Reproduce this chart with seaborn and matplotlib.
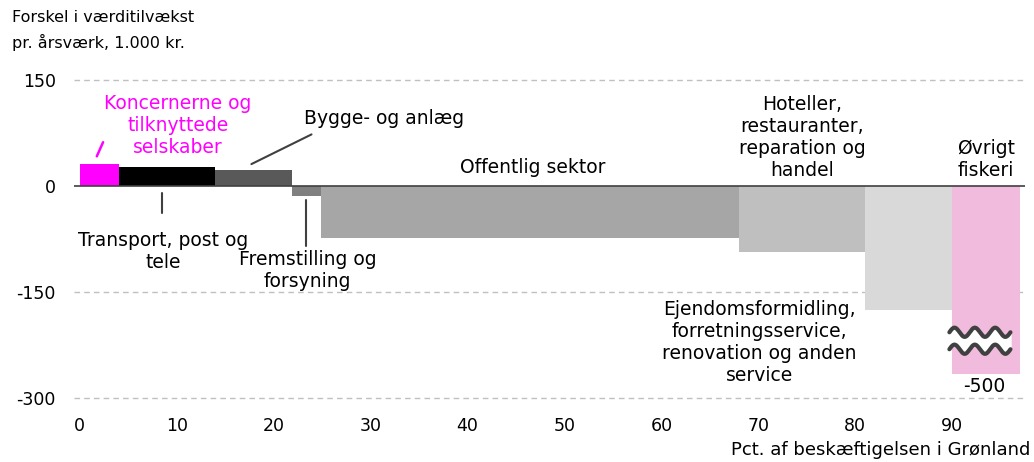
import numpy as np
import seaborn as sns
import matplotlib.pyplot as plt

# Share of employment (pct.) and value-added difference (1.000 kr. per årsværk)
sectors = ['Koncernerne og tilknyttede selskaber', 'Transport, post og tele', 'Bygge- og anlæg',
           'Fremstilling og forsyning', 'Offentlig sektor', 'Hoteller, restauranter, reparation og handel',
           'Ejendomsformidling, forretningsservice, renovation og anden service', 'Øvrigt fiskeri']
shares = [4.0, 9.9, 8.0, 3.0, 43.1, 13.0, 9.0, 7.0]
values = [31, 27, 23, -13.5, -74, -94, -175, -500]
colors = ['#ff00ff', '#000000', '#595959', '#808080', '#a6a6a6', '#bfbfbf', '#d9d9d9', '#f0bbdc']
y_ticks = [150, 0, -150, -300]
x_ticks = [0, 10, 20, 30, 40, 50, 60, 70, 80, 90]

BREAK_FLOOR = -266  # the -500 bar is cut off here (axis break)

sns.set_theme(style='white')
plt.rcParams['font.family'] = ['DejaVu Sans']
plt.rcParams['axes.unicode_minus'] = False
plt.rcParams['text.color'] = 'black'

fig = plt.figure(figsize=(10.34, 4.62), dpi=100)
ax = fig.add_axes([74 / 1034, 1 - 398 / 462, (1025 - 74) / 1034, (398 - 80) / 462])

lefts = np.concatenate([[0], np.cumsum(shares)[:-1]])
shown = [max(v, BREAK_FLOOR) for v in values]
ax.bar(lefts, shown, width=shares, align='edge', color=colors, linewidth=0, zorder=2)

ax.set_xlim(-0.6, 97.5)
ax.set_ylim(-300, 150)
ax.set_yticks(y_ticks)
ax.set_xticks(x_ticks)
ax.tick_params(axis='both', length=0, labelsize=12.5, colors='#000000')
ax.tick_params(axis='x', pad=14)
ax.tick_params(axis='y', pad=13)
for s in ax.spines.values():
    s.set_visible(False)
for yv in y_ticks:
    if yv != 0:
        ax.axhline(yv, color='#c0c0c0', lw=1, ls=(0, (4, 3)), zorder=1, clip_on=False)
ax.axhline(0, color='#404040', lw=1.2, zorder=3)

# axis break on the last bar
x0 = lefts[-1] - 0.3
xs = np.linspace(x0, x0 + 6.3, 200)
wave = 6.5 * np.sin((xs - x0) / 2.1 * 2 * np.pi)
y_hi, y_lo = -207, -231
ax.fill_between(xs, y_hi + wave - 2, y_lo + wave + 2, color='white', zorder=4)
ax.plot(xs, y_hi + wave, color='#404040', lw=3, zorder=5, solid_capstyle='round')
ax.plot(xs, y_lo + wave, color='#404040', lw=3, zorder=5, solid_capstyle='round')

fs = 13.5
kw = dict(ha='center', va='center', fontsize=fs, linespacing=1.2)
ax.text(10.1, 86, 'Koncernerne og\ntilknyttede\nselskaber', color='#ff00ff', **kw)
ax.plot([1.75, 2.4], [42, 62], color='#ff00ff', lw=1.8)
ax.text(31.4, 96, 'Bygge- og anlæg', color='black', **kw)
ax.plot([17.7, 23.9], [31, 73], color='#404040', lw=1.5)
ax.text(46.7, 26, 'Offentlig sektor', color='black', **kw)
ax.text(74.5, 68, 'Hoteller,\nrestauranter,\nreparation og\nhandel', color='black', **kw)
ax.text(93.5, 37, 'Øvrigt\nfiskeri', color='black', **kw)
ax.text(8.6, -93, 'Transport, post og\ntele', color='black', **kw)
ax.plot([8.45, 8.45], [-10, -38], color='#404040', lw=1.5)
ax.text(23.5, -119, 'Fremstilling og\nforsyning', color='black', **kw)
ax.plot([23.3, 23.3], [-20, -85], color='#404040', lw=1.5)
ax.text(70.1, -222, 'Ejendomsformidling,\nforretningsservice,\nrenovation og anden\nservice', color='black', **kw)
ax.text(93.3, -284, f'{values[-1]}', color='black', **kw)

fig.text(12 / 1034, 1 - 18 / 462, 'Forskel i værditilvækst', fontsize=11.5, va='center', ha='left', color='black')
fig.text(12 / 1034, 1 - 42 / 462, 'pr. årsværk, 1.000 kr.', fontsize=11.5, va='center', ha='left', color='black')
fig.text(1030 / 1034, 1 - 450 / 462, 'Pct. af beskæftigelsen i Grønland', fontsize=13, va='center', ha='right',
         color='black')

fig.savefig('out.png', dpi=100)
